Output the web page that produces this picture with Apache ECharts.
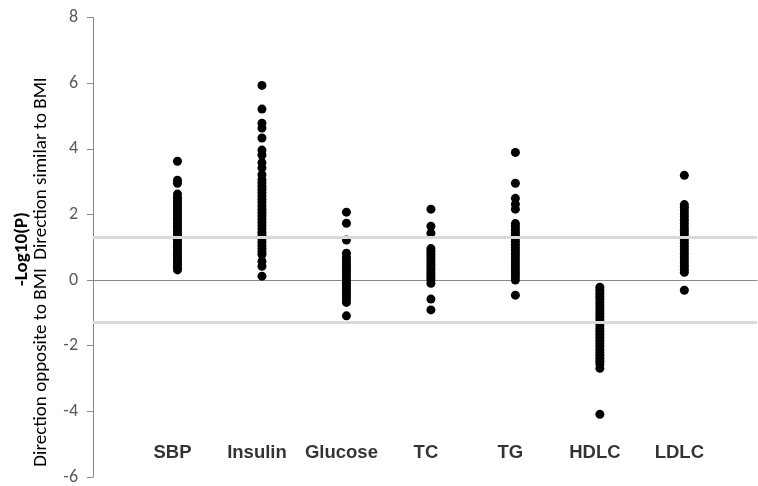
<!DOCTYPE html>
<html>
<head>
<meta charset="utf-8">
<script src="https://cdn.jsdelivr.net/npm/echarts@6/dist/echarts.min.js"></script>
<style>html,body{margin:0;padding:0;background:#fff}#c{width:758px;height:486px}</style>
</head>
<body>
<div id="c"></div>
<script>
var categories = ['SBP', 'Insulin', 'Glucose', 'TC', 'TG', 'HDLC', 'LDLC'];
var sbp = [3.62, 3.04, 2.95, 2.62, 2.52, 2.44, 2.36, 2.28, 2.2, 2.12, 2.04, 1.96, 1.88, 1.8, 1.72, 1.64, 1.56, 1.48, 1.4, 1.32, 1.24, 1.16, 1.08, 1.0, 0.92, 0.84, 0.76, 0.68, 0.6, 0.52, 0.45, 0.38, 0.31];
var insulin = [5.93, 5.21, 4.78, 4.63, 4.33, 3.96, 3.81, 3.58, 3.42, 3.21, 3.06, 2.96, 2.86, 2.76, 2.66, 2.56, 2.46, 2.36, 2.26, 2.16, 2.06, 1.96, 1.86, 1.76, 1.66, 1.56, 1.46, 1.36, 1.26, 1.16, 1.06, 0.96, 0.86, 0.78, 0.57, 0.42, 0.12];
var glucose = [2.07, 1.73, 1.22, 0.82, 0.7, 0.62, 0.54, 0.46, 0.38, 0.3, 0.22, 0.14, 0.06, -0.02, -0.1, -0.18, -0.26, -0.34, -0.42, -0.5, -0.58, -0.68, -1.09];
var tc = [2.16, 1.64, 1.43, 0.96, 0.88, 0.8, 0.72, 0.64, 0.56, 0.48, 0.4, 0.32, 0.24, 0.16, 0.08, 0.0, -0.1, -0.58, -0.91];
var tg = [3.89, 2.95, 2.49, 2.31, 2.16, 1.72, 1.63, 1.54, 1.45, 1.36, 1.27, 1.18, 1.09, 1.0, 0.91, 0.82, 0.73, 0.64, 0.55, 0.46, 0.37, 0.28, 0.19, 0.1, 0.0, -0.46];
var hdlc = [-0.22, -0.31, -0.4, -0.49, -0.58, -0.67, -0.76, -0.85, -0.94, -1.03, -1.12, -1.21, -1.3, -1.39, -1.48, -1.57, -1.66, -1.75, -1.84, -1.93, -2.02, -2.11, -2.2, -2.29, -2.38, -2.47, -2.56, -2.69, -4.09];
var ldlc = [3.19, 2.3, 2.22, 2.12, 2.02, 1.92, 1.82, 1.72, 1.62, 1.52, 1.42, 1.32, 1.22, 1.12, 1.02, 0.92, 0.82, 0.72, 0.62, 0.52, 0.42, 0.32, 0.24, -0.31];
var thresholds = [1.3, -1.3];
var yMin = -6, yMax = 8, yInterval = 2;
var categoryLabelY = -5.28;

var seriesValues = [sbp, insulin, glucose, tc, tg, hdlc, ldlc];
var points = [];
seriesValues.forEach(function (vals, i) {
  vals.forEach(function (v) { points.push([i + 1, v]); });
});
var labelPoints = categories.map(function (c, i) { return { value: [i + 1, categoryLabelY], name: c }; });

var chart = echarts.init(document.getElementById('c'), null, { renderer: 'canvas' });
chart.setOption({
  animation: false,
  backgroundColor: '#ffffff',
  grid: { left: 93, right: 1, top: 17.5, bottom: 8, containLabel: false },
  xAxis: {
    type: 'value', min: 0, max: 7.86,
    axisLine: { show: true, onZero: true, lineStyle: { color: '#888888', width: 1 } },
    axisTick: { show: false }, axisLabel: { show: false }, splitLine: { show: false }
  },
  yAxis: {
    type: 'value', min: yMin, max: yMax, interval: yInterval,
    axisLine: { show: true, onZero: false, lineStyle: { color: '#888888', width: 1 } },
    axisTick: { show: true, inside: false, length: 6, lineStyle: { color: '#888888' } },
    axisLabel: { color: '#595959', fontSize: 18, margin: 15, fontFamily: 'Carlito, Lato, sans-serif' },
    splitLine: { show: false }
  },
  graphic: [
    { type: 'text', x: 22, y: 249, rotation: Math.PI / 2,
      style: { text: '-Log10(P)', x: 0, y: 0, align: 'center', verticalAlign: 'middle',
        font: 'bold 19px Carlito, Lato, sans-serif', fill: '#000000' } },
    { type: 'text', x: 41, y: 272, rotation: Math.PI / 2,
      style: { text: 'Direction opposite to BMI  Direction similar to BMI', x: 0, y: 0, align: 'center', verticalAlign: 'middle',
        font: '19px Carlito, Lato, sans-serif', fill: '#000000' } }
  ],
  series: [
    {
      type: 'scatter', name: 'points', data: points, symbol: 'circle', symbolSize: 9,
      itemStyle: { color: '#000000', opacity: 1 }, silent: true, z: 3,
      markLine: {
        silent: true, symbol: 'none', animation: false,
        label: { show: false },
        lineStyle: { color: '#d9d9d9', width: 3, type: 'solid' },
        data: thresholds.map(function (t) { return { yAxis: t }; })
      }
    },
    {
      type: 'scatter', name: 'labels', data: labelPoints, symbolSize: 0, silent: true,
      label: {
        show: true, position: 'inside', offset: [-5, 0],
        formatter: function (p) { return p.name; },
        fontSize: 18.5, fontWeight: 'bold', color: '#000000', fontFamily: 'Liberation Sans, Arial, sans-serif'
      }
    }
  ]
});
</script>
</body>
</html>
